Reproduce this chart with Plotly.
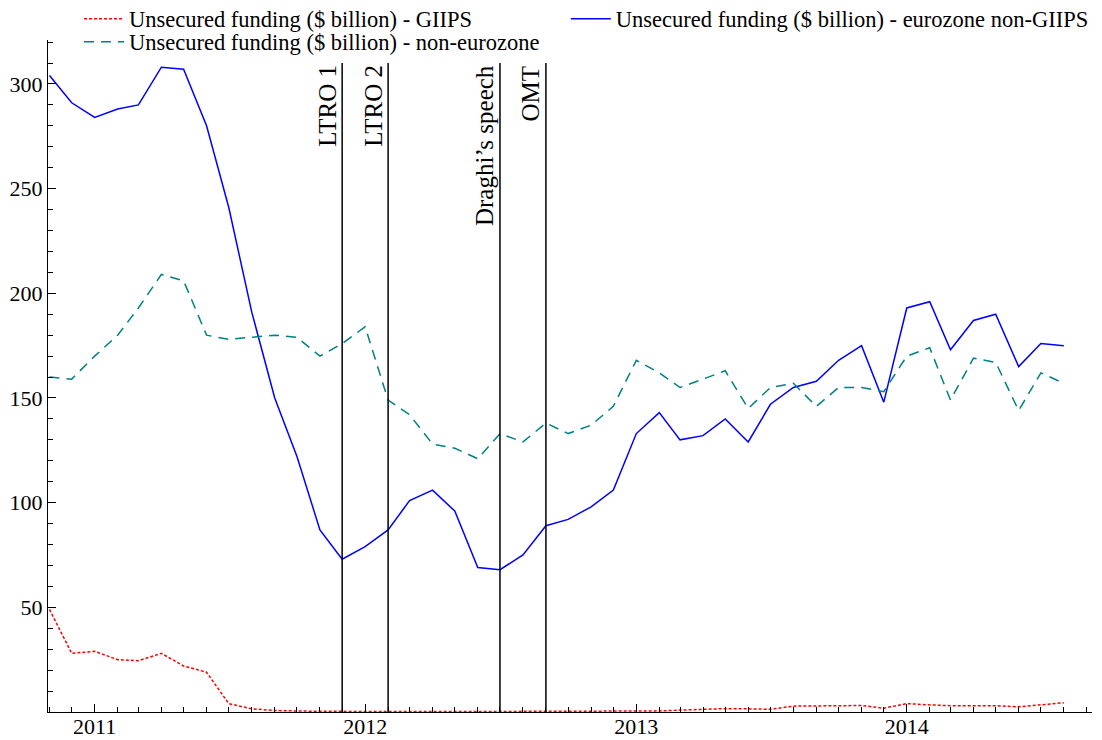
import plotly.graph_objects as go
import pandas as pd

months = pd.date_range("2010-11-01", "2014-08-01", freq="MS").strftime("%Y-%m-%d").tolist()

giips = [49, 28, 29, 25, 24.5, 28, 22, 19, 4, 1.5, 0.7, 0.4, 0.3, 0.3,
         0.2, 0.2, 0.2, 0.2, 0.2, 0.2, 0.2, 0.2, 0.2, 0.2, 0.3, 0.3,
         0.4, 0.5, 0.9, 1.2, 1.6, 1.5, 1.3, 2.8, 2.9, 3.0, 3.1, 1.8,
         4.0, 3.4, 3.0, 3.0, 3.0, 2.5, 3.6, 4.4]

eurozone_non_giips = [304, 291, 284, 288, 290, 308, 307, 280, 241, 191, 150, 122,
                      87, 73, 79, 87, 101, 106, 96, 69, 68, 75, 89, 92,
                      98, 106, 133, 143, 130, 132, 140, 129, 147, 155, 158, 168,
                      175, 148, 193, 196, 173, 187, 190, 165, 176, 175]

non_eurozone = [160, 159, 170, 180, 193, 209, 206, 180, 178, 179, 180, 179,
                170, 176, 184, 149, 142, 128, 126, 121, 133, 129, 138, 133,
                137, 146, 168, 162, 155, 159, 163, 145, 155, 157, 146, 155,
                155, 153, 170, 174, 149, 169, 167, 144, 162, 157]

event_dates = ["2011-12-01", "2012-02-01", "2012-07-01", "2012-09-01"]
event_labels = ["LTRO 1", "LTRO 2", "Draghi’s speech", "OMT"]
event_top = 310

tick_vals = ["2011-01-01", "2012-01-01", "2013-01-01", "2014-01-01"]
tick_text = ["2011", "2012", "2013", "2014"]
y_ticks = [50, 100, 150, 200, 250, 300]

FONT = "Liberation Serif"

fig = go.Figure()
fig.add_trace(go.Scatter(x=months, y=giips, mode="lines", legend="legend",
                         name="Unsecured funding ($ billion) - GIIPS",
                         line=dict(color="#ff0000", width=1.5, dash="3px,2px")))
fig.add_trace(go.Scatter(x=months, y=eurozone_non_giips, mode="lines", legend="legend2",
                         name="Unsecured funding ($ billion) - eurozone non-GIIPS",
                         line=dict(color="#0000ff", width=1.5)))
fig.add_trace(go.Scatter(x=months, y=non_eurozone, mode="lines", legend="legend3",
                         name="Unsecured funding ($ billion) - non-eurozone",
                         line=dict(color="#008080", width=1.5, dash="10px,7px")))

for d, lab in zip(event_dates, event_labels):
    fig.add_shape(type="line", x0=d, x1=d, y0=0, y1=event_top, xref="x", yref="y",
                  line=dict(color="black", width=1.5))
    fig.add_annotation(x=d, y=event_top, xref="x", yref="y", text=lab, textangle=-90,
                       showarrow=False, xanchor="right", yanchor="top", xshift=0,
                       font=dict(family=FONT, size=25, color="black"))

legend_common = dict(orientation="h", xanchor="left", yanchor="middle",
                     bgcolor="rgba(0,0,0,0)", font=dict(family=FONT, size=22.5),
                     itemwidth=40, borderwidth=0)

fig.update_layout(
    width=1094, height=732,
    margin=dict(l=40, r=10, t=32, b=28, autoexpand=False),
    paper_bgcolor="white", plot_bgcolor="white",
    font=dict(family=FONT, size=22, color="black"),
    showlegend=True,
    legend=dict(x=0.0297, y=1.03125, **legend_common),
    legend2=dict(x=0.496, y=1.03125, **legend_common),
    legend3=dict(x=0.0297, y=0.997, **legend_common),
    xaxis=dict(type="date", range=["2010-10-30", "2014-09-08"],
               tickvals=tick_vals, ticktext=tick_text,
               ticks="inside", ticklen=8, tickwidth=1, tickcolor="black",
               showline=True, linecolor="black", linewidth=1.2,
               showgrid=False, zeroline=False, ticklabelstandoff=-6,
               minor=dict(ticks="inside", ticklen=5, dtick="M1", tickcolor="black",
                          showgrid=False, tick0="2010-11-01"),
               tickfont=dict(family=FONT, size=22)),
    yaxis=dict(range=[0, 321], tickvals=y_ticks,
               ticks="inside", ticklen=8, tickwidth=1, tickcolor="black",
               showline=True, linecolor="black", linewidth=1.2,
               showgrid=False, zeroline=False,
               minor=dict(ticks="inside", ticklen=5, dtick=10, tickcolor="black", showgrid=False),
               tickfont=dict(family=FONT, size=22)),
)

fig.write_html("out.html")
